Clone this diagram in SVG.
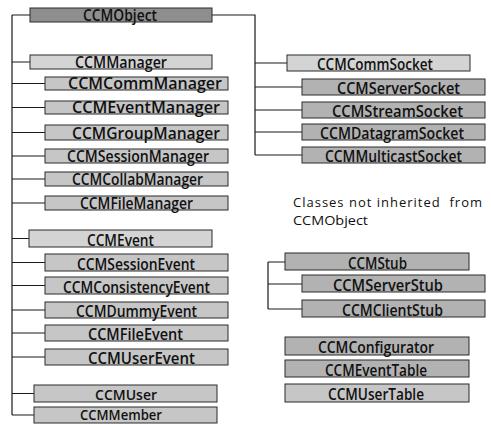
<svg xmlns="http://www.w3.org/2000/svg" width="491" height="424" viewBox="0 0 491 424">
<style>
rect{stroke:#2a2a2a;stroke-width:1}
.d{fill:#8e8e8e}.m{fill:#c6c6c6}.l{fill:#d4d4d4}.s{fill:#b2b2b2}
text{font-family:"Open Sans","Noto Sans",sans-serif;font-size:16px;font-weight:600;fill:#111}
.sm{font-size:14px}
.cap{font-size:13px;font-weight:400}
.c{fill:none;stroke:#1a1a1a;stroke-width:1.2}
</style>
<rect width="491" height="424" fill="#fff" style="stroke:none"/>
<g id="connectors">
<path class="c" d="M12 15V415M12 15H30M12 62H30M12 83.5H45M12 107.5H45M12 132.5H45M12 156H45M12 179H45M12 203H45M12 238.5H29M12 262.5H45M12 285.5H45M12 310H45M12 333H45M12 357H45M12 393.5H34M12 415H34"/>
<path class="c" d="M212 15H255V155M255 63H287M255 87H302M255 110H302M255 132H302M255 155H302"/>
<path class="c" d="M268 262V309M268 262H285M268 284H302M268 309H302"/>
</g>
<g id="CCMObject"><rect class="d" x="30" y="8" width="182" height="14"/><text x="83" y="21" textLength="74" lengthAdjust="spacingAndGlyphs">CCMObject</text></g>
<g id="CCMManager"><rect class="l" x="30" y="55" width="182" height="14"/><text x="75" y="68" textLength="92" lengthAdjust="spacingAndGlyphs">CCMManager</text></g>
<g id="CCMCommManager"><rect class="m" x="45" y="77" width="183" height="13"/><text x="68" y="89" textLength="154" lengthAdjust="spacingAndGlyphs">CCMCommManager</text></g>
<g id="CCMEventManager"><rect class="m" x="45" y="101" width="183" height="13"/><text x="72" y="113" textLength="148" lengthAdjust="spacingAndGlyphs">CCMEventManager</text></g>
<g id="CCMGroupManager"><rect class="m" x="45" y="125" width="183" height="15"/><text x="72" y="139" textLength="148" lengthAdjust="spacingAndGlyphs">CCMGroupManager</text></g>
<g id="CCMSessionManager"><rect class="m" x="45" y="149" width="183" height="14"/><text x="67" y="162" textLength="142" lengthAdjust="spacingAndGlyphs">CCMSessionManager</text></g>
<g id="CCMCollabManager"><rect class="m" x="45" y="172" width="183" height="14"/><text x="72" y="185" textLength="131" lengthAdjust="spacingAndGlyphs">CCMCollabManager</text></g>
<g id="CCMFileManager"><rect class="m" x="45" y="196" width="183" height="14"/><text x="80" y="209" textLength="113" lengthAdjust="spacingAndGlyphs">CCMFileManager</text></g>
<g id="CCMEvent"><rect class="l" x="29" y="230" width="183" height="17"/><text x="87" y="246" textLength="67" lengthAdjust="spacingAndGlyphs">CCMEvent</text></g>
<g id="CCMSessionEvent"><rect class="m" x="45" y="254" width="183" height="17"/><text x="77" y="270" textLength="118" lengthAdjust="spacingAndGlyphs">CCMSessionEvent</text></g>
<g id="CCMConsistencyEvent"><rect class="m" x="45" y="277" width="183" height="17"/><text x="63" y="293" textLength="147" lengthAdjust="spacingAndGlyphs">CCMConsistencyEvent</text></g>
<g id="CCMDummyEvent"><rect class="m" x="45" y="302" width="183" height="16"/><text x="76" y="317" textLength="121" lengthAdjust="spacingAndGlyphs">CCMDummyEvent</text></g>
<g id="CCMFileEvent"><rect class="m" x="45" y="325" width="183" height="16"/><text x="88" y="340" textLength="95" lengthAdjust="spacingAndGlyphs">CCMFileEvent</text></g>
<g id="CCMUserEvent"><rect class="m" x="45" y="349" width="183" height="16"/><text x="88" y="364" textLength="107" lengthAdjust="spacingAndGlyphs">CCMUserEvent</text></g>
<g id="CCMUser"><rect class="m" x="34" y="385" width="183" height="17"/><text class="sm" x="95" y="399.5" textLength="62" lengthAdjust="spacingAndGlyphs">CCMUser</text></g>
<g id="CCMMember"><rect class="m" x="34" y="407" width="183" height="16"/><text class="sm" x="80" y="419.5" textLength="82" lengthAdjust="spacingAndGlyphs">CCMMember</text></g>
<g id="CCMCommSocket"><rect class="l" x="287" y="55" width="183" height="16"/><text x="317" y="70" textLength="116" lengthAdjust="spacingAndGlyphs">CCMCommSocket</text></g>
<g id="CCMServerSocket"><rect class="s" x="302" y="79" width="183" height="16"/><text x="337" y="94" textLength="123" lengthAdjust="spacingAndGlyphs">CCMServerSocket</text></g>
<g id="CCMStreamSocket"><rect class="s" x="302" y="102" width="183" height="16"/><text x="332" y="117" textLength="131" lengthAdjust="spacingAndGlyphs">CCMStreamSocket</text></g>
<g id="CCMDatagramSocket"><rect class="s" x="302" y="124" width="183" height="16"/><text x="320" y="139" textLength="144" lengthAdjust="spacingAndGlyphs">CCMDatagramSocket</text></g>
<g id="CCMMulticastSocket"><rect class="s" x="302" y="147" width="183" height="16"/><text x="325" y="162" textLength="137" lengthAdjust="spacingAndGlyphs">CCMMulticastSocket</text></g>
<g id="caption"><text class="cap" x="293" y="207" textLength="189" lengthAdjust="spacing" xml:space="preserve">Classes not inherited  from</text><text class="cap" x="293" y="225" textLength="75" lengthAdjust="spacingAndGlyphs">CCMObject</text></g>
<g id="CCMStub"><rect class="s" x="285" y="253" width="184" height="17"/><text x="348" y="269" textLength="59" lengthAdjust="spacingAndGlyphs">CCMStub</text></g>
<g id="CCMServerStub"><rect class="s" x="302" y="275" width="183" height="17"/><text x="333" y="291" textLength="110" lengthAdjust="spacingAndGlyphs">CCMServerStub</text></g>
<g id="CCMClientStub"><rect class="s" x="302" y="300" width="183" height="17"/><text x="342" y="316" textLength="101" lengthAdjust="spacingAndGlyphs">CCMClientStub</text></g>
<g id="CCMConfigurator"><rect class="s" x="285" y="337" width="184" height="18"/><text x="318" y="353" textLength="116" lengthAdjust="spacingAndGlyphs">CCMConfigurator</text></g>
<g id="CCMEventTable"><rect class="s" x="285" y="360" width="184" height="17"/><text x="325" y="376" textLength="102" lengthAdjust="spacingAndGlyphs">CCMEventTable</text></g>
<g id="CCMUserTable"><rect class="m" x="285" y="384" width="184" height="18"/><text x="328" y="400" textLength="96" lengthAdjust="spacingAndGlyphs">CCMUserTable</text></g>
</svg>
